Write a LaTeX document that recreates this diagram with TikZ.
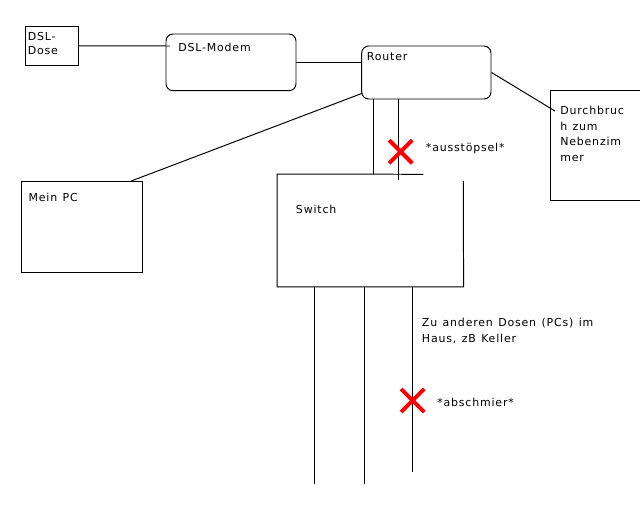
\documentclass[tikz,border=0pt]{standalone}
\usepackage{fontspec}
\setmainfont{DejaVu Sans}[LetterSpace = 7.5, WordSpace = 1.25]
\usepackage{tikz}
\usetikzlibrary{calc}
\usetikzlibrary{fit}
\usetikzlibrary{shapes.misc}
\usetikzlibrary{positioning}
\tikzset{>=latex}
\tikzstyle{box} = [draw = black, line width = 0.7pt, inner sep = 0]
\tikzstyle{rbox} = [box, rounded corners = 5pt]
\tikzstyle{wire} = [-, line width = 0.7pt]
\tikzstyle{txt} = [draw = none, inner sep = 0, anchor = north west, align = left, font = \fontsize{7.8}{11.3}\selectfont]
\tikzstyle{cut} = [cross out, draw = red, line width = 2.8pt, minimum size = 0.48cm, inner sep = 0]

\begin{document}
\begin{tikzpicture}[x = 0.025cm, y = -0.025cm]
\clip (0, 0) rectangle (640, 512);
\fill [white] (0, 0) rectangle (640, 512);
% boxes
\node [box, fit = {(25.7, 26.7) (78.3, 65)}] (dose) {};
\node [rbox, fit = {(166, 34) (296, 90.7)}] (modem) {};
\node [rbox, fit = {(361.7, 46) (491, 99)}] (router) {};
\node [box, fit = {(550.7, 90.7) (646, 200)}] (durch) {};
\node [box, fit = {(21.7, 181.7) (142.7, 272.7)}] (pc) {};
\node [draw = none, inner sep = 0, fit = {(277.3, 174.3) (463.3, 286.7)}] (switch) {};
\draw [wire] (423.3, 174.3) -- (switch.north west) -- (switch.south west) -- (switch.south east) -- (463.3, 181);
% texts
\node [txt, font = \fontsize{7.8}{9.9}\selectfont] (dosetxt) at (27.5, 32.5) {DSL-\\Dose};
\node [txt] (modemtxt) at (178, 43) {DSL-Modem};
\node [txt] (routertxt) at (366.7, 52) {Router};
\node [txt] (durchtxt) at (560, 105.5) {Durchbruc\\h zum\\Nebenzim\\mer};
\node [txt] (pctxt) at (28.3, 192.5) {Mein PC};
\node [txt] (switchtxt) at (295.7, 205.3) {Switch};
\node [txt] (zutxt) at (421.7, 317.5) {Zu anderen Dosen (PCs) im\\Haus, zB Keller};
% connectors
\coordinate (modemin) at (170, 46);
\draw [wire] (dose.east) to (modemin);
\draw [wire] (modem.east) to (modem.east -| router.west);
\coordinate (durchin) at (555, 111);
\draw [wire] (router.east) to (durchin);
\draw [wire] ($(router.south west)+(0.5, -6)$) to ($(pc.north east)+(-12.5, 0)$);
\coordinate (r1) at ($(router.south west)+(12.6, 0)$);
\coordinate (r2) at ($(router.south west)+(37.6, 0)$);
\draw [wire] (r1) to (r1 |- switch.north);
\draw [wire] (r2) to ($(r2 |- switch.north)+(0, 6)$);
\draw [wire] ($(switch.south west)+(37, 0)$) to ($(switch.south west)+(37, 196.6)$);
\draw [wire] ($(switch.south west)+(87, 0)$) to ($(switch.south west)+(87, 196.6)$);
\draw [wire] ($(switch.south west)+(135.4, 0)$) to ($(switch.south west)+(135.4, 185)$);
% unplugged / broken
\node [cut] (cut1) at (400.7, 151.7) {};
\node [txt] (cut1txt) at (425.7, 143) {*ausstöpsel*};
\node [cut] (cut2) at (412.7, 400.5) {};
\node [txt] (cut2txt) at (437, 397.5) {*abschmier*};
\end{tikzpicture}
\end{document}
